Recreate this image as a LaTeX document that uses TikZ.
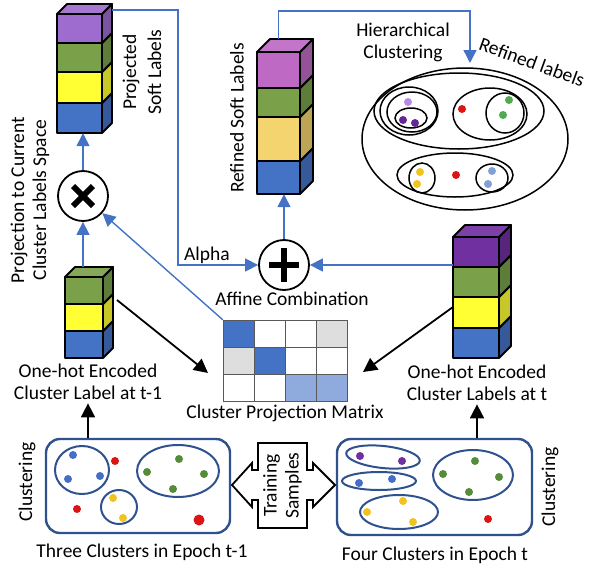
\documentclass[tikz,border=0pt]{standalone}
\usepackage{fontspec}
\setmainfont{Carlito}
\usetikzlibrary{arrows.meta}
\definecolor{cblue}{RGB}{68,114,196}
\definecolor{cltblue}{RGB}{143,170,220}
\definecolor{cgreen}{RGB}{122,160,74}
\definecolor{cyellow}{RGB}{255,255,51}
\definecolor{cpale}{RGB}{243,212,110}
\definecolor{clav}{RGB}{158,108,206}
\definecolor{cpurple}{RGB}{112,48,160}
\definecolor{cmagenta}{RGB}{190,106,196}
\definecolor{cgray}{RGB}{222,222,222}
\definecolor{cframe}{RGB}{47,82,143}
\definecolor{cred}{RGB}{220,20,20}
\definecolor{dgreen}{RGB}{84,140,58}
\definecolor{dyellow}{RGB}{240,196,30}
\definecolor{dblue}{RGB}{70,110,200}
\definecolor{dlav}{RGB}{180,140,225}
\definecolor{dpurple}{RGB}{100,40,150}
\definecolor{dlime}{RGB}{80,170,80}
\definecolor{dsky}{RGB}{130,160,215}
% one layer of a label stack: x, top y, height, colour (width \stw, depth \std)
\newcommand{\slab}[4]{%
  \filldraw[cubeline,fill=#4!78!black] (#1+\stw,#2) -- ++(\std,-\std) -- ++(0,#3) -- ++(-\std,\std) -- cycle;
  \filldraw[cubeline,fill=#4!92!white] (#1,#2) -- ++(\std,-\std) -- ++(\stw,0) -- ++(-\std,\std) -- cycle;
  \filldraw[cubeline,fill=#4] (#1,#2) rectangle ++(\stw,#3);
}
\begin{document}
\begin{tikzpicture}[x=1pt,y=-1pt,
    every node/.style={font=\fontsize{19.5}{22}\selectfont},
    cubeline/.style={line width=1.8pt,line join=round},
    stackarea/.style={inner sep=0pt},
    opcircle/.style={circle,draw,line width=1.8pt,minimum size=50pt,inner sep=0pt},
    bluearrow/.style={draw=cblue,line width=1.4pt,-{Triangle[length=13pt,width=13pt]}},
    blackarrow/.style={draw=black,line width=1.8pt,-{Triangle[length=14pt,width=14pt]}},
    frame/.style={draw=cframe,line width=2.4pt,rounded corners=14pt,inner sep=0pt},
    grp/.style={draw=cframe,line width=2pt},
    hgrp/.style={draw=black,line width=1.5pt},
    cell/.style={draw=gray!70!black,line width=0.8pt}]
\useasboundingbox (0,0) rectangle (590,568);

% stacks
\def\stw{45}\def\std{10}
\slab{57}{103}{30}{cblue}
\slab{57}{72}{31}{cyellow}
\slab{57}{43}{29}{cgreen}
\slab{57}{14}{29}{clav}
\node[stackarea,minimum width=45pt,minimum height=119pt] (projstack) at (79.5,73.5) {};

\def\stw{38}\def\std{10}
\slab{65}{331}{27}{cblue}
\slab{65}{304}{27}{cyellow}
\slab{65}{277}{27}{cgreen}
\node[stackarea,minimum width=38pt,minimum height=81pt] (prevstack) at (83,317.5) {};

\def\stw{46}\def\std{12}
\slab{453}{328}{30}{cblue}
\slab{453}{297}{31}{cyellow}
\slab{453}{267}{30}{cgreen}
\slab{453}{237}{30}{cpurple}
\node[stackarea,minimum width=46pt,minimum height=121pt] (currstack) at (476,297.5) {};

\def\stw{43}\def\std{13}
\slab{257}{161}{33}{cblue}
\slab{257}{117}{44}{cpale}
\slab{257}{88}{29}{cgreen}
\slab{257}{52}{36}{cmagenta}
\node[stackarea,minimum width=43pt,minimum height=142pt] (refstack) at (278.5,123) {};

% operators
\node[opcircle] (times) at (83,196) {};
\draw[line width=6pt] ([shift={(-10,-10)}]times.center) -- ([shift={(10,10)}]times.center);
\draw[line width=6pt] ([shift={(-10,10)}]times.center) -- ([shift={(10,-10)}]times.center);
\node[opcircle] (plus) at (284,265) {};
\draw[line width=6.5pt] ([shift={(0,-17)}]plus.center) -- ([shift={(0,17)}]plus.center);
\draw[line width=6.5pt] ([shift={(-15,0)}]plus.center) -- ([shift={(15,0)}]plus.center);

% projection matrix
\node[inner sep=0pt,minimum width=124pt,minimum height=81pt] (projmat) at (285,360.5) {};
\foreach \c [count=\i from 0] in {cblue,white,white,cgray,cgray,cblue,white,white,white,white,cltblue,cltblue}{
  \pgfmathtruncatemacro\col{mod(\i,4)}
  \pgfmathtruncatemacro\row{\i/4}
  \filldraw[cell,fill=\c] (223+31*\col,320+27*\row) rectangle ++(31,27);
}

% hierarchical clustering
\draw[hgrp] (465,139) ellipse [x radius=103,y radius=71];
\draw[hgrp] (459,111) ellipse [x radius=85,y radius=38];
\draw[hgrp] (409,111) ellipse [x radius=29,y radius=24];
\draw[hgrp] (412,112) ellipse [x radius=25,y radius=20];
\draw[hgrp] (411,118) ellipse [x radius=16,y radius=10];
\draw[hgrp] (490,114) ellipse [x radius=37,y radius=26];
\draw[hgrp] (505,113) ellipse [x radius=19,y radius=20];
\draw[hgrp] (455,175) ellipse [x radius=58,y radius=22];
\draw[hgrp] (422,178) ellipse [x radius=13,y radius=15];
\draw[hgrp] (492,178) ellipse [x radius=16,y radius=14];
\foreach \x/\y/\c in {408/102/dlav,403/120/dpurple,415/123/dpurple,462/109/cred,509/100/dlime,503/115/dlime,
    420/172/dyellow,417/184/dyellow,456/175/cred,492/171/dsky,488/184/dsky}
  \fill[\c] (\x,\y) circle (4pt);

% epoch boxes
\node[frame,minimum width=184pt,minimum height=94pt] (epochA) at (138,486) {};
\draw[grp] (82,470) ellipse [x radius=27,y radius=24];
\draw[grp] (178,471) ellipse [x radius=41,y radius=26];
\draw[grp] (119,507) ellipse [x radius=18,y radius=17];
\foreach \x/\y/\c in {73/455/dblue,68/479/dblue,100/476/dblue,115/461/cred,77/509/cred,
    179/459/dgreen,147/472/dgreen,204/474/dgreen,173/489/dgreen,113/498/dyellow,123/518/dyellow}
  \fill[\c] (\x,\y) circle (4pt);
\fill[cred] (199,520) circle (5.5pt);

\node[frame,minimum width=195pt,minimum height=96pt] (epochB) at (434.5,487) {};
\draw[grp,rotate around={-6:(383,457)}] (383,457) ellipse [x radius=37,y radius=11];
\draw[grp] (379,481) ellipse [x radius=37,y radius=9];
\draw[grp] (399,512) ellipse [x radius=39,y radius=17];
\draw[grp] (473,475) ellipse [x radius=40,y radius=25];
\foreach \x/\y/\c in {360/456/cpurple,402/461/cpurple,359/483/dblue,392/479/dblue,
    367/512/dyellow,403/501/dyellow,413/522/dyellow,475/461/dgreen,443/474/dgreen,499/477/dgreen,469/492/dgreen,488/519/cred}
  \fill[\c] (\x,\y) circle (4pt);

% training samples
\filldraw[line width=1.8pt,fill=white,line join=miter] (258,443) -- (307,443) -- (307,470) -- (313,470) -- (313,463) -- (335,485)
  -- (313,507) -- (313,500) -- (307,500) -- (307,528) -- (258,528) -- (258,500) -- (252,500) -- (252,507)
  -- (232,485) -- (252,463) -- (252,470) -- (258,470) -- cycle;
\node[rotate=90,align=center] (train) at (282.5,485.5) {Training\\Samples};

% labels
\node[rotate=90,align=center] (spacelabel) at (30,200) {Projection to Current\\Cluster Labels Space};
\node[rotate=90,align=center] (projlabel) at (142,72) {Projected\\[3pt]Soft Labels};
\node[rotate=90] (reflabel) at (237,118) {Refined Soft Labels};
\node[align=center] (hclabel) at (403,42) {Hierarchical\\Clustering};
\node[rotate=-20] (refined) at (532,62) {Refined labels};
\node (alpha) at (207,255) {Alpha};
\node (affine) at (292,299) {Affine Combination};
\node (matlabel) at (285,413) {Cluster Projection Matrix};
\node[align=center] (onehotA) at (88,382) {One-hot Encoded\\Cluster Label at t-1};
\node[align=center] (onehotB) at (477,383) {One-hot Encoded\\Cluster Labels at t};
\node[rotate=90] (clusterA) at (27,482) {Clustering};
\node[rotate=90] (clusterB) at (550,487) {Clustering};
\node (epochAlabel) at (142,552) {Three Clusters in Epoch t-1};
\node (epochBlabel) at (435,555) {Four Clusters in Epoch t};

% connectors
\coordinate (alphastart) at (112,10);
\coordinate (hcbend) at (470,11);
\coordinate (hctip) at (470,63);
\coordinate (prevout) at (117,300);
\coordinate (matinA) at (208,373);
\coordinate (currout) at (453,307);
\coordinate (matinB) at (363,372);
\draw[bluearrow] ([yshift=10pt]prevstack.north) -- (times);
\draw[bluearrow] (times) -- (times |- projstack.south);
\draw[bluearrow] (projmat.north west) -- (times);
\draw[bluearrow] (alphastart) -| ([xshift=-80pt]plus.west) -- (plus.west);
\draw[bluearrow] (currstack.west |- plus) -- (plus);
\draw[bluearrow] (plus) -- (plus |- refstack.south);
\draw[bluearrow] ([yshift=13pt]refstack.north) |- (hcbend) -- (hctip);
\draw[blackarrow] (prevout) -- (matinA);
\draw[blackarrow] (currout) -- (matinB);
\draw[blackarrow] (onehotA.south |- epochA.north) -- (onehotA.south);
\draw[blackarrow] (onehotB.south |- epochB.north) -- (onehotB.south);
\end{tikzpicture}
\end{document}
